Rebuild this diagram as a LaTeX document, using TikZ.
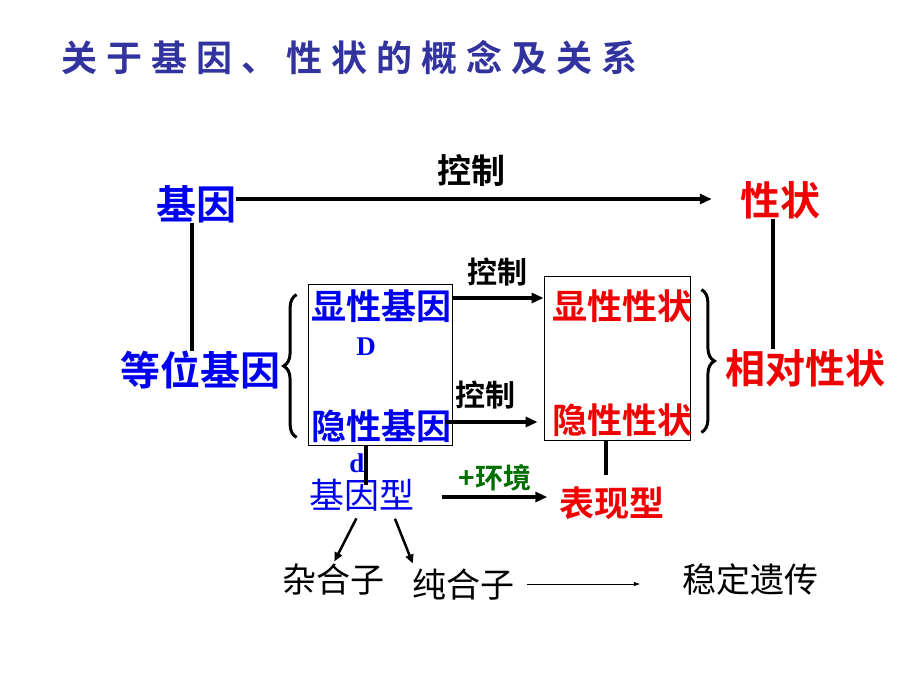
\documentclass[tikz,border=0pt]{standalone}
\usepackage{fontspec}
\setmainfont{Liberation Serif}
\newfontfamily\cjk{Noto Sans CJK SC}[BoldFont={Noto Sans CJK SC Bold}]
\usepackage{xcolor}
\usetikzlibrary{arrows.meta,decorations.pathreplacing}

\definecolor{titleblue}{RGB}{51,51,160}
\definecolor{geneblue}{RGB}{0,0,240}
\definecolor{traitred}{RGB}{240,0,0}
\definecolor{envgreen}{RGB}{0,110,0}

\tikzset{
  txt/.style={inner sep=0pt},
  thickarr/.style={line width=3.5pt,-{Triangle[length=12pt,width=10pt]}},
  midarr/.style={line width=2.5pt,-{Triangle[length=9pt,width=8pt]}},
  thinarr/.style={line width=0.8pt,-{Triangle[length=6pt,width=4pt]}},
  bar/.style={line width=3.5pt},
  box/.style={draw,line width=0.8pt,inner sep=0pt},
  bracket/.style={line width=3pt,decorate,decoration={brace,amplitude=13pt}}
}

\newcommand{\sz}[1]{\fontsize{#1}{#1}\selectfont}

\begin{document}
\begin{tikzpicture}[x=1pt,y=-1pt]
\useasboundingbox (0,0) rectangle (920,690);

% Title
\node[txt,text=titleblue,font=\cjk\bfseries\sz{36}\addfontfeature{LetterSpace=25}] (title) at (349,58) {关于基因、性状的概念及关系};

% Text Node
\node[txt,text=geneblue,font=\cjk\bfseries\sz{40}] (gene) at (196,204) {基因};
\node[txt,text=traitred,font=\cjk\bfseries\sz{40}] (trait) at (780,200) {性状};
\node[txt,font=\cjk\bfseries\sz{34}] (ctrlA) at (471,170) {控制};
\node[txt,text=geneblue,font=\cjk\bfseries\sz{40}] (allele) at (200,370) {等位基因};
\node[txt,text=traitred,font=\cjk\bfseries\sz{40}] (relative) at (805,368) {相对性状};

% Boxes
\node[box,minimum width=144pt,minimum height=161pt] (genebox) at (380,364.5) {};
\node[box,minimum width=146pt,minimum height=164pt] (traitbox) at (617,358) {};

\node[txt,text=geneblue,font=\cjk\bfseries\sz{35}] (domgene) at (381,306) {显性基因};
\node[txt,text=geneblue,font=\bfseries\sz{27}] (bigD) at (366,347) {D};
\node[txt,text=geneblue,font=\cjk\bfseries\sz{35}] (recgene) at (381,426) {隐性基因};
\node[txt,text=geneblue,font=\bfseries\sz{27}] (smalld) at (357,463) {d};
\node[txt,text=traitred,font=\cjk\bfseries\sz{35}] (domtrait) at (622,306) {显性性状};
\node[txt,text=traitred,font=\cjk\bfseries\sz{35}] (rectrait) at (622,420) {隐性性状};
\node[txt,font=\cjk\bfseries\sz{30}] (ctrlB) at (497,272) {控制};
\node[txt,font=\cjk\bfseries\sz{30}] (ctrlC) at (485,395) {控制};

\node[txt,text=geneblue,font=\cjk\sz{35}] (genotype) at (362,495) {基因型};
\node[txt,text=envgreen,font=\cjk\bfseries\sz{28}] (env) at (495,478) {+环境};
\node[txt,text=traitred,font=\cjk\bfseries\sz{35}] (phenotype) at (612,503) {表现型};
\node[txt,font=\cjk\sz{34}] (hetero) at (333,580) {杂合子};
\node[txt,font=\cjk\sz{34}] (homo) at (463,585) {纯合子};
\node[txt,font=\cjk\sz{34}] (stable) at (750,580) {稳定遗传};

%Straight Lines
\draw[thickarr] ([yshift=5pt]gene.east) -- ([xshift=-28pt,yshift=5pt]trait.west |- gene.east);
\draw[bar] ([xshift=-4pt]gene.south) -- ([xshift=-4pt]gene.south |- allele.north);
\draw[bar] ([xshift=-7pt]trait.south) -- ([xshift=-7pt]trait.south |- relative.north);
\draw[thickarr] ([yshift=8pt]genebox.east |- domgene) -- ([yshift=8pt]traitbox.west |- domgene);
\draw[thickarr] ([xshift=-7pt,yshift=4pt]genebox.east |- recgene) -- ([xshift=-6pt,yshift=4pt]traitbox.west |- recgene);
\draw[bar] ([xshift=-14pt]genebox.south) -- ([xshift=4pt,yshift=-6pt]genotype.north);
\draw[bar] ([xshift=-11pt]traitbox.south) -- ([xshift=-6pt,yshift=11pt]phenotype.north);
\draw[thickarr] ([xshift=27pt,yshift=-2pt]genotype.east) -- ([xshift=-12pt,yshift=-2pt]phenotype.west |- genotype.east);
\draw[midarr,shorten <=8pt,shorten >=3pt] ([xshift=-2pt]genotype.south) -- (hetero.north);
\draw[midarr,shorten <=8pt,shorten >=6pt] ([xshift=30pt]genotype.south) -- ([xshift=-48pt]homo.north);
\draw[thinarr] ([xshift=13pt,yshift=1pt]homo.east) -- ([xshift=-42pt,yshift=1pt]stable.west |- homo.east);

% Braces
\draw[bracket] ([xshift=-11pt,yshift=8pt]genebox.south west) -- ([xshift=-11pt,yshift=-11pt]genebox.north west);
\draw[bracket] ([xshift=11pt,yshift=-14pt]traitbox.north east) -- ([xshift=11pt,yshift=8pt]traitbox.south east);

\end{tikzpicture}
\end{document}
